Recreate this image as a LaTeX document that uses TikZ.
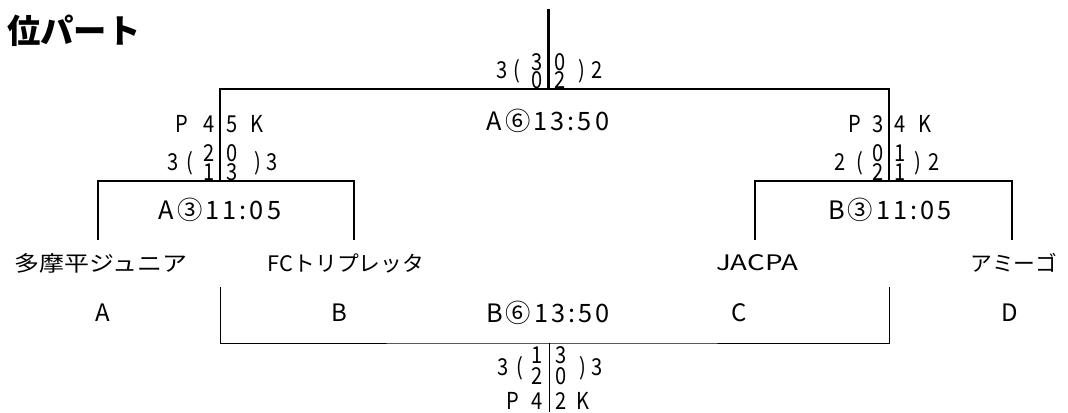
\documentclass[tikz,border=0pt]{standalone}
\usepackage{fontspec}
\setmainfont{Noto Sans CJK JP}
\newfontfamily\teamfont[FakeStretch=1.17]{Noto Sans CJK JP}
\newfontfamily\teamnarrow[FakeStretch=1.02]{Noto Sans CJK JP}
\newfontfamily\teamwide[FakeStretch=1.3]{Noto Sans CJK JP}
\newfontfamily\lblfont[LetterSpace=12]{Noto Sans CJK JP}
\newfontfamily\digfont[FakeStretch=0.86]{Noto Sans CJK JP}
\tikzstyle{heavy}=[line width=2pt]
\tikzstyle{light}=[line width=0.75pt]
\tikzstyle{team}=[inner sep=0,font=\teamfont\fontsize{16}{18}\selectfont]
\tikzstyle{letter}=[inner sep=0,font=\fontsize{18}{20}\selectfont]
\tikzstyle{match}=[inner sep=0,font=\lblfont\fontsize{19}{20}\selectfont]
\tikzstyle{dig}=[inner sep=0,anchor=base,text height=11.5pt,text depth=0pt,font=\digfont\fontsize{17.5}{18}\selectfont]

\begin{document}
\begin{tikzpicture}[x=0.75pt,y=-0.75pt]
\useasboundingbox[fill=white] (0,0) rectangle (1068,412);

% title
\node[anchor=west,inner sep=0,font=\bfseries\fontsize{25}{26}\selectfont] (title) at (7,31) {位パート};

% teams and letters
\node[team] (tA) at (101,263) {多摩平ジュニア};
\node[team,font=\teamnarrow\fontsize{16}{18}\selectfont] (tB) at (346,263) {FCトリプレッタ};
\node[team,font=\teamwide\fontsize{16}{18}\selectfont] (tC) at (757,263) {JACPA};
\node[team,font=\teamnarrow\fontsize{16}{18}\selectfont] (tD) at (1014,263) {アミーゴ};
\node[letter] (lA) at (103,313) {A};
\node[letter] (lB) at (339,313) {B};
\node[letter] (lC) at (739,313) {C};
\node[letter] (lD) at (1010,313) {D};

% match labels
\node[match] (m1) at (220,210) {A③11:05};
\node[match] (m2) at (890,210) {B③11:05};
\node[match] (m3) at (548,121) {A⑥13:50};
\node[match] (m4) at (548,313) {B⑥13:50};

% bracket points
\coordinate (ca) at (98,240);
\coordinate (cb) at (354,240);
\coordinate (cc) at (755,240);
\coordinate (cd) at (1012,240);
\coordinate (s1) at (220,181);
\coordinate (s2) at (889,181);
\coordinate (fin) at (548.5,89);
\coordinate (top) at (548.5,9);
\coordinate (bb) at (220,287);
\coordinate (bc) at (889,287);
\coordinate (thd) at (549,343);
\coordinate (bot) at (549,412);

\draw[heavy] (ca) |- (s1) -| (cb);
\draw[heavy] (cc) |- (s2) -| (cd);
\draw[heavy] (s1) |- (fin) -| (s2);
\draw[heavy] (fin) -- (top);
\draw[light] (bb) |- (thd) -| (bc);
\draw[light] (thd) -- (bot);

% scores, final
\foreach \x/\y/\t [count=\i] in {537/70/3,560/70/0,537/88/0,560/88/2,502/78/3,517/78/(,582/78/),597/78/2}
  \node[dig] (f\i) at (\x,\y) {\t};
% scores, left semi
\foreach \x/\y/\t [count=\i] in {182/132/P,209/132/4,232/132/5,257/132/K,209/161/2,232/161/0,209/180/1,232/180/3,173/170/3,190/170/(,258/170/),272/170/3}
  \node[dig] (a\i) at (\x,\y) {\t};
% scores, right semi
\foreach \x/\y/\t [count=\i] in {855/132/P,878/132/3,900/132/4,925/132/K,878/161/0,900/161/1,878/180/2,900/180/1,840/170/2,860/170/(,918/170/),934/170/2}
  \node[dig] (b\i) at (\x,\y) {\t};
% scores, third place
\foreach \x/\y/\t [count=\i] in {537/363/1,561/363/3,537/384/2,561/384/0,503/375/3,520/375/(,583/375/),597/375/3,513/409/P,537/409/4,561/409/2,583/409/K}
  \node[dig] (c\i) at (\x,\y) {\t};

\end{tikzpicture}
\end{document}
